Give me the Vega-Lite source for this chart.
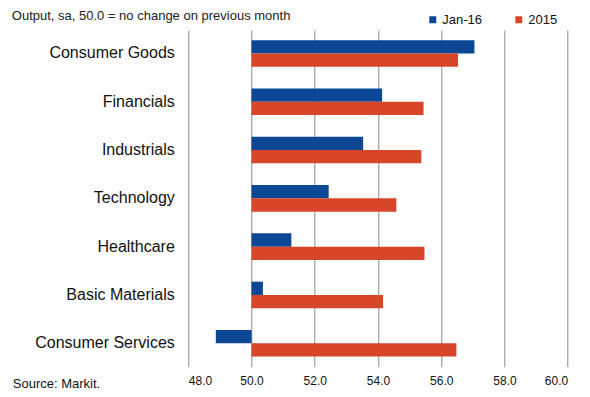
{
  "$schema": "https://vega.github.io/schema/vega-lite/v6.json",
  "autosize": "none",
  "width": 379.4,
  "height": 336.7,
  "padding": {"left": 188.3, "top": 30, "right": 22.3, "bottom": 30.3},
  "background": "white",
  "config": {
    "font": "Liberation Sans",
    "view": {"stroke": null}
  },
  "title": {
    "text": "Output, sa, 50.0 = no change on previous month",
    "anchor": "start",
    "frame": "group",
    "orient": "top",
    "baseline": "alphabetic",
    "dx": -176.5,
    "dy": 32,
    "offset": 12,
    "fontSize": 13,
    "fontWeight": "normal",
    "color": "#222222",
    "font": "Liberation Sans"
  },
  "data": {
    "values": [
      {"sector": "Consumer Goods", "series": "Jan-16", "value": 57.05},
      {"sector": "Consumer Goods", "series": "2015", "value": 56.53},
      {"sector": "Financials", "series": "Jan-16", "value": 54.13},
      {"sector": "Financials", "series": "2015", "value": 55.44},
      {"sector": "Industrials", "series": "Jan-16", "value": 53.53},
      {"sector": "Industrials", "series": "2015", "value": 55.37},
      {"sector": "Technology", "series": "Jan-16", "value": 52.44},
      {"sector": "Technology", "series": "2015", "value": 54.58},
      {"sector": "Healthcare", "series": "Jan-16", "value": 51.26},
      {"sector": "Healthcare", "series": "2015", "value": 55.47},
      {"sector": "Basic Materials", "series": "Jan-16", "value": 50.36},
      {"sector": "Basic Materials", "series": "2015", "value": 54.16},
      {"sector": "Consumer Services", "series": "Jan-16", "value": 48.87},
      {"sector": "Consumer Services", "series": "2015", "value": 56.48}
    ]
  },
  "mark": {"type": "bar"},
  "encoding": {
    "y": {
      "field": "sector",
      "type": "nominal",
      "sort": null,
      "scale": {"paddingInner": 0.45, "paddingOuter": 0.21},
      "axis": {
        "title": null,
        "domain": false,
        "ticks": false,
        "grid": false,
        "labelPadding": 14,
        "labelFontSize": 16,
        "labelColor": "#111111",
        "labelFont": "Liberation Sans",
        "labelLimit": 200
      }
    },
    "yOffset": {
      "field": "series",
      "type": "nominal",
      "sort": ["Jan-16", "2015"],
      "scale": {"paddingInner": 0, "paddingOuter": 0}
    },
    "x": {
      "field": "value",
      "type": "quantitative",
      "scale": {"domain": [48, 60], "zero": false, "nice": false},
      "axis": {
        "values": [48, 50, 52, 54, 56, 58, 60],
        "format": ".1f",
        "domain": false,
        "ticks": false,
        "grid": true,
        "gridColor": "#8a8a8a",
        "gridWidth": 1,
        "labelPadding": 9,
        "labelFontSize": 12,
        "labelColor": "#111111",
        "labelFont": "Liberation Sans",
        "title": "Source: Markit.",
        "titleFont": "Liberation Sans",
        "titleFontSize": 13,
        "titleFontWeight": "normal",
        "titleColor": "#111111",
        "titleAlign": "left",
        "titleBaseline": "alphabetic",
        "titleAnchor": "start",
        "titleX": -176,
        "titleY": 21
      }
    },
    "x2": {"datum": 50},
    "color": {
      "field": "series",
      "type": "nominal",
      "sort": ["Jan-16", "2015"],
      "scale": {"domain": ["Jan-16", "2015"], "range": ["#0b4795", "#d8462a"]},
      "legend": {
        "title": null,
        "orient": "none",
        "direction": "horizontal",
        "legendX": 238,
        "legendY": -17,
        "symbolType": "square",
        "symbolSize": 49,
        "symbolStrokeWidth": 0,
        "labelFontSize": 13,
        "labelFont": "Liberation Sans",
        "labelColor": "#111111",
        "labelOffset": 3,
        "columnPadding": 30
      }
    }
  }
}
